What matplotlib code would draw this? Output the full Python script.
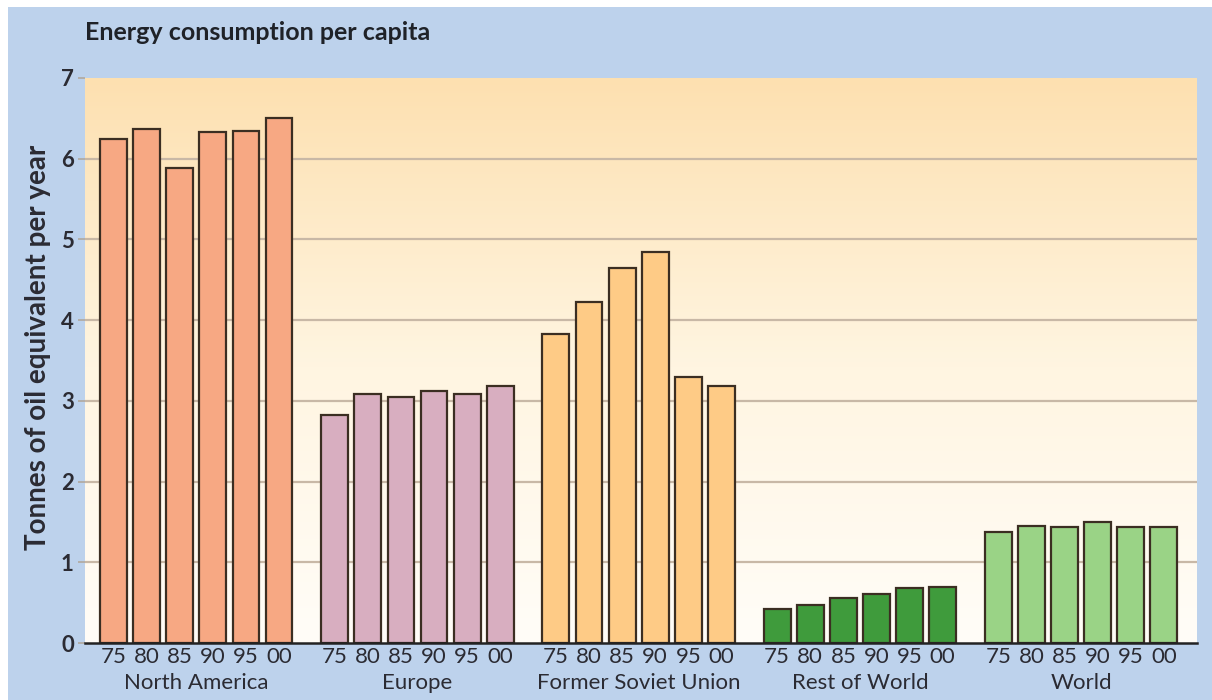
import numpy as np
import matplotlib
matplotlib.use("Agg")
import matplotlib.pyplot as plt
from matplotlib.patches import Rectangle
from matplotlib.colors import LinearSegmentedColormap

plt.rcParams['font.family'] = ['Lato', 'DejaVu Sans']

regions = ["North America", "Europe", "Former Soviet Union", "Rest of World", "World"]
years = ["75", "80", "85", "90", "95", "00"]

north_america = [6.24, 6.37, 5.89, 6.33, 6.34, 6.50]
europe = [2.83, 3.09, 3.05, 3.12, 3.08, 3.18]
former_soviet_union = [3.83, 4.22, 4.65, 4.84, 3.30, 3.18]
rest_of_world = [0.42, 0.47, 0.56, 0.61, 0.68, 0.70]
world = [1.37, 1.45, 1.44, 1.50, 1.44, 1.44]

series = [north_america, europe, former_soviet_union, rest_of_world, world]
colors = ["#F7A883", "#D8AEC0", "#FECB86", "#3F9B3C", "#9AD386"]
edge = "#3B2E22"
text_col = "#2B2B33"

group_step = 6.68
bar_width = 0.81

fig = plt.figure(figsize=(12.12, 7.0), dpi=100)
fig.patch.set_facecolor("white")
# blue panel behind the chart
fig.patches.append(Rectangle((8 / 1212, 0), 1 - 8 / 1212, 1 - 7 / 700,
                             transform=fig.transFigure, facecolor="#BDD2EC",
                             edgecolor="none", zorder=0))

ax = fig.add_axes([85 / 1212, 1 - 643 / 700, (1197 - 85) / 1212, (643 - 78) / 700])
ax.set_zorder(1)

xmin, xmax = -0.86, 4 * group_step + 5 + 1.0
ax.set_xlim(xmin, xmax)
ax.set_ylim(0, 7)

# warm vertical gradient for the plotting area
top = np.array([253, 224, 176]) / 255
bot = np.array([255, 253, 248]) / 255
cmap = LinearSegmentedColormap.from_list("warm", [bot, (1.0, 0.96, 0.88), top])
grad = np.linspace(0, 1, 256).reshape(-1, 1)
ax.imshow(grad, extent=[xmin, xmax, 0, 7], origin="lower", aspect="auto",
          cmap=cmap, zorder=0)

for y in range(1, 7):
    ax.axhline(y, color="#C8B8A6", lw=1.6, zorder=1)

xticks, xlabels = [], []
for g, (vals, col) in enumerate(zip(series, colors)):
    xs = [g * group_step + i for i in range(len(vals))]
    ax.bar(xs, vals, width=bar_width, color=col, edgecolor=edge, linewidth=1.6, zorder=3)
    xticks += xs
    xlabels += years
    ax.text(g * group_step + 2.5, -0.49, regions[g], ha="center", va="center",
            fontsize=16, color=text_col, clip_on=False)

ax.set_xticks(xticks)
ax.set_xticklabels(xlabels, fontsize=16, color=text_col)
ax.tick_params(axis="x", length=0, pad=3)

ax.set_yticks(range(0, 8))
ax.set_yticklabels([str(v) for v in range(0, 8)], fontsize=16, fontweight="bold", color=text_col)
ax.tick_params(axis="y", length=5, width=1.2, color="#B0A89E", pad=3)

for s in ["top", "right", "left"]:
    ax.spines[s].set_visible(False)
ax.spines["bottom"].set_color("#222222")
ax.spines["bottom"].set_linewidth(1.8)
ax.spines["bottom"].set_zorder(4)

fig.text(38 / 1212, 1 - 347 / 700, "Tonnes of oil equivalent per year", fontsize=20,
         fontweight="bold", color=text_col, rotation=90, ha="center", va="center")

fig.text(85 / 1212, 1 - 33 / 700, "Energy consumption per capita", fontsize=18,
         fontweight="bold", color="#1F2228", ha="left", va="center")

fig.savefig("out.png", dpi=100, facecolor=fig.get_facecolor())
